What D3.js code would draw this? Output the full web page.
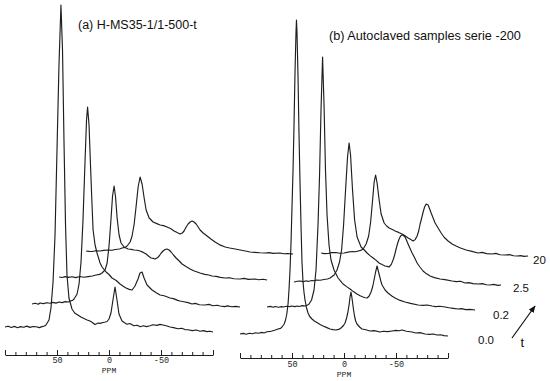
<!DOCTYPE html>
<html>
<head>
<meta charset="utf-8">
<script src="https://cdn.jsdelivr.net/npm/d3@7"></script>
<style>
  html, body { margin: 0; padding: 0; background: #fff; }
  svg { display: block; }
</style>
</head>
<body>
<div id="chart"></div>
<script>
// each spectrum: [ppm in its own frame, intensity above its own baseline]
// panel (a) H-MS35-1/1-500-t
const traceA0 = [[100,0],[97,0.8],[94,-0.5],[91,0.6],[88,-0.7],[85,0.4],[82,-0.3],[79,0.9],[76,-0.4],[73,0.5],[70,0.2],[67,-0.6],[64.4,0.4],[62,1],[60.6,2],[57.7,7],[55.8,19],[53.8,45],[51.9,92],[50,177],[48.1,262],[46.2,322],[44.7,277],[43.3,187],[41.8,102],[40.4,52],[38.5,29],[35.6,18],[33,14],[30,12],[27,10],[24,8.5],[21,7],[18.3,6],[16,4.5],[13.5,2.5],[12,3.2],[10.6,4],[8.5,3.6],[5.8,4.5],[3.5,5],[1.9,5.5],[0,8],[-1.9,14],[-3.8,27],[-5.8,40],[-7.7,27],[-9.6,13],[-12.5,6],[-15,4.2],[-17.3,2.8],[-20,3.5],[-24,1.2],[-27,1.8],[-30,0.3],[-33,1.2],[-36,0.4],[-39.4,1.3],[-42,2.2],[-46.2,1.6],[-49,2.6],[-51.9,2],[-55,1.2],[-58.7,0],[-62,-0.6],[-66.3,-1.8],[-70,-1.2],[-73,-2.6],[-76,-2.8],[-80,-3.6],[-84,-3],[-87.5,-4.2],[-91,-3.6],[-94,-4.6],[-97,-4.2],[-100,-5]];
const traceA1 = [[100,0],[97,0.7],[94,-0.3],[92.3,1],[89,0.4],[86,1.3],[82.7,0.8],[80,1.6],[77,0.9],[74,2],[71,1.4],[68,2.4],[65,2],[63.5,3],[61,3.6],[59.6,5],[56.7,10],[54.8,20],[52.9,42],[51,84],[49,144],[47.6,184],[46.6,197],[45.2,179],[43.8,139],[42.3,99],[41.3,74],[39.4,59],[37.5,51],[34.6,41],[32.7,37],[28.8,32],[26,29.5],[23.1,26],[19,23.5],[15.4,20],[12,17.6],[9.6,16],[6.5,14.6],[3.8,14],[1,18],[-1.9,25],[-3.8,31],[-5.8,32],[-7.7,26],[-10.6,19],[-15.4,14],[-19,11.6],[-23.1,9],[-27,8.2],[-32.7,6],[-36,5.4],[-40,3.6],[-42.3,3],[-46,2.2],[-50,1.4],[-53.8,0],[-57,0.6],[-61,-0.8],[-66.3,-1],[-70,-0.4],[-74,-1.8],[-78,-1.2],[-80.8,-2],[-85,-2.6],[-88,-1.9],[-92,-2.8],[-96,-2.4],[-100,-3]];
const traceA2 = [[100,0],[97,-0.5],[94.2,0.4],[91,-0.4],[87.5,0.3],[84,-0.6],[80,0.5],[76,-0.2],[72.1,0.4],[68,1],[64.4,2],[61,2.6],[58.7,4],[55.8,7],[53.8,14],[51.9,32],[50,59],[48.6,81],[47.1,91],[45.7,80],[44.2,59],[42.3,42],[40.4,34],[37.5,30],[33.7,28],[30.5,27.6],[27.9,27],[25,26.8],[22.1,26],[19,24.6],[16.3,23],[13.5,20.5],[11.5,19],[9.5,18.6],[7.7,18],[5.5,19.2],[3.8,21],[1.8,24],[0,26],[-1.9,27.5],[-3.8,28],[-5.8,27],[-7.7,25],[-10,22],[-12.5,19],[-15.5,16],[-18.3,13],[-22,10.4],[-26,8],[-30,6],[-35.6,4],[-40,2.6],[-44,2],[-47.1,1],[-51,0.6],[-55,-0.4],[-59.6,-1],[-64,-0.7],[-68,-1.8],[-74,-2],[-78,-1.4],[-82,-2.4],[-88.5,-2],[-92,-2.8],[-96,-2.3],[-100,-3]];
const traceA3 = [[100,0],[97,-0.4],[94.2,-0.5],[91,0.3],[86.5,0],[83,0.6],[78.8,1],[75,0.8],[72.1,1.5],[68,2],[65.4,3],[62.5,3.6],[60.6,5],[57.7,9],[55.8,15],[53.8,27],[51.9,45],[50,64],[48.1,74],[46.2,67],[44.2,53],[42.3,41],[39.4,33],[35.6,29],[32,27.4],[28.8,26],[25.5,25.4],[22.1,24],[18.5,22.2],[15.4,20],[12.5,18.4],[9.6,17],[7.5,18],[5.8,20],[3.8,24],[1.9,27],[0,29],[-1.9,30],[-3.8,29],[-5.8,27],[-7.7,24],[-9.6,21],[-12.5,18],[-16.3,15],[-20,12],[-24,9],[-28,6.4],[-33.7,4],[-38,3],[-43.3,2],[-48,1],[-52,0.2],[-57.7,-1],[-62,-1.4],[-67,-1.8],[-72.1,-2],[-76,-1.6],[-80,-2.4],[-86.5,-2],[-90,-2.8],[-94,-2.6],[-99,-3]];

// panel (b) autoclaved samples serie -200
const traceB0 = [[100,-2],[97,-1.4],[94,-2.2],[91,-1.2],[88,-1.8],[85,-0.8],[82,-1.3],[79,-0.4],[76.9,-1],[74,0.2],[71,0.6],[69.2,1],[66,2],[63.5,3],[61,3.6],[59.6,5],[57.5,8],[56.2,12],[55,18],[53.8,28],[52.9,42],[51.9,62],[51,87],[50,125],[49,162],[48.1,205],[47.1,260],[46.2,298],[45.7,312],[45.2,300],[44.2,255],[43.3,200],[42.3,150],[41.3,105],[40.4,70],[39.4,50],[38.5,40],[37.5,32],[36,24],[34.6,19],[33,15.5],[30.8,13],[28.5,11],[26,9.5],[23,7.6],[20.2,6],[17,4.6],[13.5,3],[10.5,2.4],[7.7,2],[5,2.6],[2.9,4],[0.5,6.5],[-1,9],[-2.5,14],[-3.8,20],[-5,28],[-5.8,35],[-6.7,40],[-7.4,36],[-8.2,30],[-9.2,22],[-10.1,16],[-11.2,11],[-12.5,8],[-15,5],[-17.3,3],[-21,2.2],[-25,1],[-29,1.4],[-34.6,0],[-38,0.8],[-42,0.4],[-46.2,1],[-50,1.6],[-53,1.2],[-55.8,2],[-60,0.8],[-65.4,0],[-69,-1],[-73,-0.6],[-77.9,-2],[-82,-2.4],[-86,-2],[-89.4,-3],[-93,-2.8],[-96,-3.6],[-100,-4]];
const traceB1 = [[100,0],[97,0.6],[94,-0.3],[92.3,0.5],[89,-0.2],[86,0.4],[84.6,0],[81,0.8],[78,0.3],[76.9,1],[73,0.4],[71,1],[69.2,0.5],[66,1.4],[63.5,1],[61,2],[59.6,3],[57.2,7],[54.8,17],[52.9,37],[51,82],[49.5,132],[48.1,197],[46.6,250],[45.2,202],[43.8,137],[42.3,92],[40.4,62],[38.5,47],[35.6,37],[31.7,29],[29,25.6],[26.9,23],[23.5,20.4],[20.2,18],[17,15.4],[13.5,13],[10.5,11.2],[7.7,10],[5.5,9.2],[3.8,9],[1.8,11],[0,15],[-1.5,20],[-2.9,27],[-4.4,35],[-5.8,41],[-7,36],[-8.2,31],[-9.4,26],[-10.6,22],[-13.5,17],[-16.3,14],[-20,11],[-23.1,9],[-28,6.6],[-32.7,5],[-38,3.6],[-45.2,2],[-50,1.6],[-54,2],[-58.7,1],[-62,0.4],[-66,0.8],[-71.2,0],[-75,-0.8],[-79,-1.4],[-83.7,-2],[-87,-1.6],[-91,-2.6],[-95,-2.4],[-100,-3]];
const traceB2 = [[100,0],[97,0.8],[94.2,1],[91,0.4],[88,1.2],[86.5,0.5],[83,1.5],[80,1.2],[78.8,2],[75,1.8],[71.2,2.5],[68,3],[65.4,4],[61.5,7],[58.7,12],[56.3,20],[54.3,32],[52.4,57],[50.5,92],[48.6,125],[47.1,139],[45.7,127],[43.8,92],[41.8,62],[39.4,45],[35.6,35],[32.5,32],[29.8,29],[27,26.4],[24,24],[21,21.6],[18.3,19],[15.5,17.4],[12.5,16],[10.5,15.6],[8.7,15],[6.5,17.6],[4.8,22],[3.3,27],[1.9,33],[0.5,38.5],[-1,43],[-2.4,46],[-3.8,47],[-5.2,46.5],[-6.7,45],[-8,42],[-9.6,38],[-11.5,33.5],[-13.5,29],[-16,24],[-18.3,19],[-21,15],[-24,11],[-27,8.4],[-30.8,6],[-35,4.4],[-40.4,3],[-45,2.4],[-51.9,1],[-56,0.4],[-60,0.8],[-64.4,-1],[-68,-0.6],[-72,-1.6],[-76.9,-2],[-81,-1.6],[-85,-2.8],[-88.5,-3],[-92,-2.4],[-96,-3.4],[-99,-3]];
const traceB3 = [[100,0],[97,-0.6],[93.3,-0.5],[90,0.4],[85.6,0.5],[82,-0.3],[77.9,0],[74,0.9],[70.2,1.5],[67,1.2],[64.4,2],[62,2.6],[59.6,4],[56.7,9],[54.3,17],[52.4,31],[50.5,53],[49,71],[47.6,78],[46.2,70],[44.2,53],[42.3,39],[39.4,30],[37,27],[34.6,25],[31.5,23.4],[28.8,22],[25.5,20.6],[22.1,19],[19,17],[16.3,15],[13.8,13.4],[11.5,12],[9.6,13.4],[7.7,17],[6.2,22],[4.8,29],[3.3,35],[1.9,41],[0.5,46],[-1,49],[-2.9,48],[-4.4,44],[-5.8,40],[-7.7,35],[-9.6,30],[-12.5,25],[-15.4,20],[-18.5,15.5],[-22.1,12],[-26,9],[-29.8,7],[-34,5],[-39.4,3],[-45,1.6],[-51,0],[-55,0.6],[-59,-0.6],[-64.4,-1],[-68,-0.4],[-72,-1.8],[-76.9,-2],[-81,-1.6],[-85,-2.8],[-88.5,-3],[-92,-2.6],[-95,-3.4],[-99,-3]];

// stacking: each later spectrum is moved right (ppm) and up (intensity)
const shiftPpm = [0, 26, 52, 78];
const liftA = [0, 23, 50, 76];
const liftB = [0, 25, 50, 79];

const timeLabels = ['0.0', '0.2', '2.5', '20'];
const ppmTicks = [100, 90, 80, 70, 60, 50, 40, 30, 20, 10, 0, -10, -20, -30, -40, -50, -60, -70, -80, -90, -100];
const labelledTicks = [50, 0, -50];
const majorTicks = [100, 50, 0, -50, -100];

const W = 550, H = 381;
const ink = '#1e1e1e';
const monoFont = '"Liberation Mono", "DejaVu Sans Mono", monospace';

const svg = d3.select('#chart').append('svg')
  .attr('width', W)
  .attr('height', H);

function drawPanel(cfg) {
  const x = d3.scaleLinear().domain([100, -100]).range(cfg.xRange);
  const y = d3.scaleLinear().domain([0, 330]).range([cfg.base, cfg.base - 330]);

  const g = svg.append('g');

  cfg.traces.forEach((tr, k) => {
    const line = d3.line()
      .x(d => x(d[0] - shiftPpm[k]))
      .y(d => y(d[1] + cfg.lift[k]));
    g.append('path')
      .datum(tr)
      .attr('d', line)
      .attr('fill', 'none')
      .attr('stroke', ink)
      .attr('stroke-width', 1.15)
      .attr('stroke-linejoin', 'round');
  });

  // ppm axis, ticks pointing up, labels underneath
  const ax = svg.append('g')
    .attr('transform', `translate(0,${cfg.axisY})`)
    .call(d3.axisBottom(x)
      .tickValues(ppmTicks)
      .tickSizeInner(-3)
      .tickSizeOuter(0)
      .tickPadding(cfg.pad)
      .tickFormat(d => labelledTicks.includes(d) ? String(d) : ''));
  ax.select('.domain').attr('stroke', ink).attr('stroke-width', 1);
  ax.selectAll('.tick line')
    .attr('stroke', ink)
    .attr('y2', d => majorTicks.includes(d) ? -5 : -3);
  ax.selectAll('.tick text')
    .attr('fill', ink)
    .style('font-family', monoFont)
    .style('font-size', '8.5px');

  svg.append('text')
    .attr('x', x(0))
    .attr('y', cfg.axisY + cfg.ppmDy)
    .attr('text-anchor', 'middle')
    .attr('fill', ink)
    .style('font-family', monoFont)
    .style('font-size', '8px')
    .text('PPM');

  svg.append('text')
    .attr('x', cfg.titleX)
    .attr('y', cfg.titleY)
    .attr('fill', '#111')
    .style('font-family', '"Liberation Sans", Arial, sans-serif')
    .style('font-size', cfg.titleSize + 'px')
    .text(cfg.title);
}

drawPanel({
  traces: [traceA0, traceA1, traceA2, traceA3],
  lift: liftA,
  xRange: [5, 213],
  base: 327,
  axisY: 355,
  pad: 2,
  ppmDy: 18,
  title: '(a) H-MS35-1/1-500-t',
  titleX: 78, titleY: 29, titleSize: 12.5
});

drawPanel({
  traces: [traceB0, traceB1, traceB2, traceB3],
  lift: liftB,
  xRange: [240, 448],
  base: 332,
  axisY: 358,
  pad: 3,
  ppmDy: 18.5,
  title: '(b) Autoclaved samples serie -200',
  titleX: 329, titleY: 40, titleSize: 12.7
});

// time labels at the right end of the (b) stack
const labelPos = [[478, 343.5], [493, 318.5], [513, 291.5], [533, 263.5]];
svg.append('g').selectAll('text')
  .data(timeLabels)
  .join('text')
  .attr('x', (d, i) => labelPos[i][0])
  .attr('y', (d, i) => labelPos[i][1])
  .attr('fill', '#111')
  .style('font-family', '"Liberation Sans", Arial, sans-serif')
  .style('font-size', '11.5px')
  .text(d => d);

// time arrow
const defs = svg.append('defs');
defs.append('marker')
  .attr('id', 'head')
  .attr('viewBox', '0 0 10 10')
  .attr('refX', 9).attr('refY', 5)
  .attr('markerWidth', 6).attr('markerHeight', 6)
  .attr('orient', 'auto')
  .append('path')
  .attr('d', 'M0,1 L10,5 L0,9 Z')
  .attr('fill', '#111');

svg.append('line')
  .attr('x1', 512).attr('y1', 338)
  .attr('x2', 535).attr('y2', 306)
  .attr('stroke', '#111')
  .attr('stroke-width', 1.2)
  .attr('marker-end', 'url(#head)');

svg.append('text')
  .attr('x', 520.5)
  .attr('y', 347)
  .attr('fill', '#111')
  .style('font-family', '"Liberation Sans", Arial, sans-serif')
  .style('font-size', '13px')
  .text('t');
</script>
</body>
</html>
